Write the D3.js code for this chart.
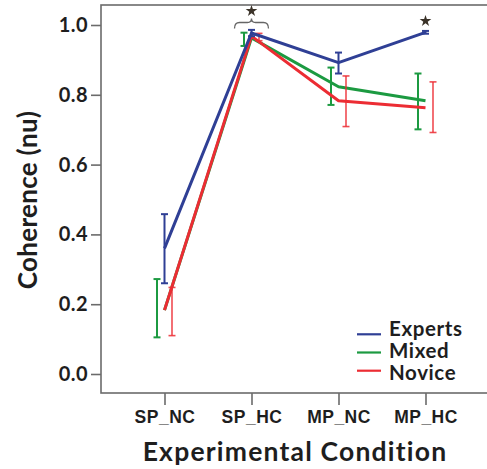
<!DOCTYPE html>
<html>
<head>
<meta charset="utf-8">
<script src="https://cdn.jsdelivr.net/npm/d3@7"></script>
<style>
  body { margin: 0; background: #fff; }
  svg { display: block; }
</style>
</head>
<body>
<svg width="487" height="469"></svg>
<script>
const conditions = ['SP_NC', 'SP_HC', 'MP_NC', 'MP_HC'];
const groups = ['Experts', 'Mixed', 'Novice'];
const yTicks = [0, 0.2, 0.4, 0.6, 0.8, 1.0];

// mean and error bar ends, one value per condition
const expertsMean = [0.36, 0.977, 0.892, 0.979];
const expertsLow = [0.26, 0.968, 0.861, 0.975];
const expertsHigh = [0.458, 0.986, 0.921, 0.983];

const mixedMean = [0.183, 0.963, 0.823, 0.783];
const mixedLow = [0.105, 0.94, 0.771, 0.701];
const mixedHigh = [0.272, 0.978, 0.878, 0.861];

const noviceMean = [0.183, 0.968, 0.783, 0.763];
const noviceLow = [0.11, 0.955, 0.709, 0.692];
const noviceHigh = [0.248, 0.976, 0.854, 0.837];

// conditions marked significant
const starred = ['SP_HC', 'MP_HC'];

const colors = { Experts: '#2f3f95', Mixed: '#1c9a41', Novice: '#ec2c33' };
const offsets = { Experts: 0, Mixed: -7.5, Novice: 7.5 };

const series = [
  { name: 'Mixed', mean: mixedMean, low: mixedLow, high: mixedHigh },
  { name: 'Novice', mean: noviceMean, low: noviceLow, high: noviceHigh },
  { name: 'Experts', mean: expertsMean, low: expertsLow, high: expertsHigh }
];

const createChart = () => {
  const svg = d3.select('svg');
  const frame = { left: 101, top: 5, right: 490, bottom: 393 };

  const x = d3.scalePoint().domain(conditions).range([164.5, 425.5]);
  const y = d3.scaleLinear().domain([0, 1]).range([374, 25]);

  // frame
  svg.append('rect')
    .attr('x', frame.left)
    .attr('y', frame.top)
    .attr('width', frame.right - frame.left)
    .attr('height', frame.bottom - frame.top)
    .attr('fill', 'none')
    .attr('stroke', '#6b6b6b')
    .attr('stroke-width', 1.6);

  const yAxis = svg.append('g')
    .attr('transform', `translate(${frame.left},0)`)
    .call(d3.axisLeft(y).tickValues(yTicks).tickFormat(d3.format('.1f')).tickSize(10).tickPadding(3));
  yAxis.select('.domain').remove();
  yAxis.selectAll('line').attr('stroke', '#6b6b6b').attr('stroke-width', 1.6);
  yAxis.selectAll('text')
    .attr('fill', '#1e1e1e')
    .style('font', 'bold 20px Lato')
    .style('letter-spacing', '0.4px');

  const xAxis = svg.append('g')
    .attr('transform', `translate(0,${frame.bottom})`)
    .call(d3.axisBottom(x).tickSize(12).tickPadding(6));
  xAxis.select('.domain').remove();
  xAxis.selectAll('line').attr('stroke', '#6b6b6b').attr('stroke-width', 1.6);
  xAxis.selectAll('text')
    .attr('fill', '#1e1e1e')
    .style('font', 'bold 17.5px "Liberation Sans"')
    .style('letter-spacing', '0.5px');

  svg.append('text')
    .attr('transform', 'translate(37,200) rotate(-90)')
    .attr('text-anchor', 'middle')
    .attr('fill', '#1e1e1e')
    .style('font', 'bold 26px Lato')
    .style('letter-spacing', '0.3px')
    .text('Coherence (nu)');

  svg.append('text')
    .attr('x', 295)
    .attr('y', 461)
    .attr('text-anchor', 'middle')
    .attr('fill', '#1e1e1e')
    .style('font', 'bold 26.5px Lato')
    .style('letter-spacing', '1.2px')
    .text('Experimental Condition');

  const line = d3.line()
    .x((d, i) => x(conditions[i]))
    .y(d => y(d));

  const seriesG = svg.append('g')
    .selectAll('g')
    .data(series)
    .join('g');

  seriesG.append('path')
    .attr('d', d => line(d.mean))
    .attr('fill', 'none')
    .attr('stroke', d => colors[d.name])
    .attr('stroke-width', 3)
    .attr('stroke-linejoin', 'round');

  // error bars, dodged per group
  const bars = seriesG.selectAll('g.err')
    .data(s => conditions.map((c, i) => ({ name: s.name, c, low: s.low[i], high: s.high[i] })))
    .join('g')
    .attr('class', 'err')
    .attr('stroke', d => colors[d.name])
    .attr('stroke-width', d => d.name === 'Novice' ? 1.6 : 2)
    .attr('stroke-opacity', d => d.name === 'Novice' ? 0.85 : 1);

  const cap = 3.5;
  bars.append('line')
    .attr('x1', d => x(d.c) + offsets[d.name])
    .attr('x2', d => x(d.c) + offsets[d.name])
    .attr('y1', d => y(d.low))
    .attr('y2', d => y(d.high));
  bars.append('line')
    .attr('x1', d => x(d.c) + offsets[d.name] - cap)
    .attr('x2', d => x(d.c) + offsets[d.name] + cap)
    .attr('y1', d => y(d.high))
    .attr('y2', d => y(d.high));
  bars.append('line')
    .attr('x1', d => x(d.c) + offsets[d.name] - cap)
    .attr('x2', d => x(d.c) + offsets[d.name] + cap)
    .attr('y1', d => y(d.low))
    .attr('y2', d => y(d.low));

  // significance marks
  const bracePath = cx => {
    const w = 17, t = 22.5, b = 28.5;
    return `M${cx - w},${b} Q${cx - w},${t} ${cx - w + 5},${t} L${cx - 4},${t} Q${cx},${t} ${cx},${t - 4}`
      + ` Q${cx},${t} ${cx + 4},${t} L${cx + w - 5},${t} Q${cx + w},${t} ${cx + w},${b}`;
  };

  svg.append('path')
    .attr('d', bracePath(x('SP_HC')))
    .attr('fill', 'none')
    .attr('stroke', '#666')
    .attr('stroke-width', 1.3);

  svg.append('g')
    .selectAll('path')
    .data(starred)
    .join('path')
    .attr('d', d3.symbol(d3.symbolStar, 42))
    .attr('transform', d => `translate(${x(d)},${d === 'SP_HC' ? 11 : 21})`)
    .attr('fill', '#3a3228');

  // legend
  const legend = svg.append('g')
    .selectAll('g')
    .data(groups)
    .join('g');

  legend.append('line')
    .attr('x1', 357)
    .attr('x2', 381)
    .attr('y1', (d, i) => 334.3 + i * 18.2)
    .attr('y2', (d, i) => 334.3 + i * 18.2)
    .attr('stroke', d => colors[d])
    .attr('stroke-width', 2.2);

  legend.append('text')
    .attr('x', 389)
    .attr('y', (d, i) => 336 + i * 22)
    .attr('fill', '#1e1e1e')
    .style('font', 'bold 20.5px Lato')
    .style('letter-spacing', '0.6px')
    .text(d => d);
};

window.addEventListener('DOMContentLoaded', () => {
  createChart();
});
</script>
</body>
</html>
